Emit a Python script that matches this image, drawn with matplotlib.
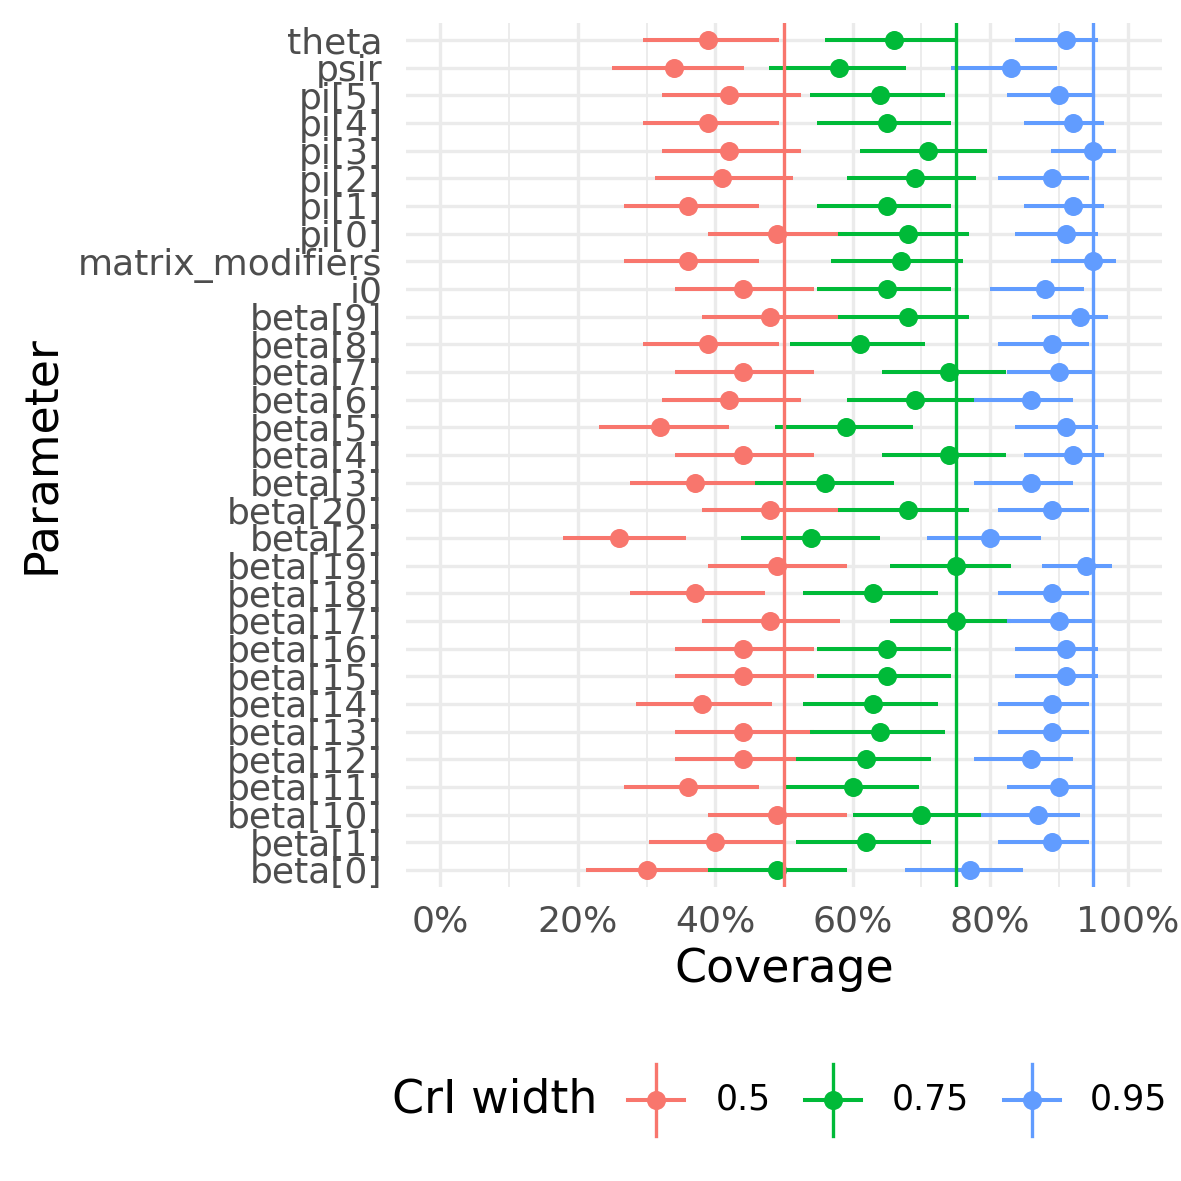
import matplotlib
matplotlib.use('Agg')
import matplotlib.pyplot as plt
from matplotlib.lines import Line2D
from matplotlib.ticker import FixedLocator

# Parameters, bottom to top (alphabetical order as in the source)
params = ['beta[0]', 'beta[1]', 'beta[10]', 'beta[11]', 'beta[12]', 'beta[13]',
          'beta[14]', 'beta[15]', 'beta[16]', 'beta[17]', 'beta[18]', 'beta[19]',
          'beta[2]', 'beta[20]', 'beta[3]', 'beta[4]', 'beta[5]', 'beta[6]',
          'beta[7]', 'beta[8]', 'beta[9]', 'i0', 'matrix_modifiers', 'pi[0]',
          'pi[1]', 'pi[2]', 'pi[3]', 'pi[4]', 'pi[5]', 'psir', 'theta']

widths = ['0.5', '0.75', '0.95']
nominal = [0.5, 0.75, 0.95]
colors = ['#F8766D', '#00BA38', '#619CFF']

# Coverage (%) and interval for CrI width 0.5
cov_50 = [30, 40, 49, 36, 44, 44, 38, 44, 44, 48, 37, 49, 26, 48, 37, 44, 32, 42,
          44, 39, 48, 44, 36, 49, 36, 41, 42, 39, 42, 34, 39]
lo_50 = [21.2, 30.4, 38.9, 26.7, 34.1, 34.1, 28.5, 34.1, 34.1, 38.0, 27.6, 38.9,
         17.8, 38.0, 27.6, 34.1, 23.1, 32.3, 34.1, 29.5, 38.0, 34.1, 26.7, 38.9,
         26.7, 31.3, 32.3, 29.5, 32.3, 24.9, 29.5]
hi_50 = [38.9, 49.8, 59.2, 46.3, 54.3, 54.3, 48.3, 54.3, 54.3, 58.2, 47.3, 59.2,
         35.8, 58.2, 47.3, 54.3, 42.0, 52.4, 54.3, 49.3, 58.2, 54.3, 46.3, 59.2,
         46.3, 51.3, 52.4, 49.3, 52.4, 44.2, 49.3]

# CrI width 0.75
cov_75 = [49, 62, 70, 60, 62, 64, 63, 65, 65, 75, 63, 75, 54, 68, 56, 74, 59, 69,
          74, 61, 68, 65, 67, 68, 65, 69, 71, 65, 64, 58, 66]
lo_75 = [38.9, 51.8, 60.1, 50.3, 51.8, 53.8, 52.8, 54.8, 54.8, 65.4, 52.8, 65.4,
         43.8, 57.9, 45.8, 64.3, 48.7, 59.1, 64.3, 50.8, 57.9, 54.8, 56.9, 57.9,
         54.8, 59.1, 61.1, 54.8, 53.8, 47.8, 55.9]
hi_75 = [59.2, 71.4, 78.7, 69.6, 71.4, 73.4, 72.4, 74.3, 74.3, 83.1, 72.4, 83.1,
         64.0, 76.9, 66.0, 82.3, 68.7, 77.9, 82.3, 70.5, 76.9, 74.3, 76.1, 76.9,
         74.3, 77.9, 79.6, 74.3, 73.4, 67.8, 74.9]

# CrI width 0.95
cov_95 = [77, 89, 87, 90, 86, 89, 89, 91, 91, 90, 89, 94, 80, 89, 86, 92, 91, 86,
          90, 89, 93, 88, 95, 91, 92, 89, 95, 92, 90, 83, 91]
lo_95 = [67.6, 81.2, 78.7, 82.4, 77.6, 81.2, 81.2, 83.6, 83.6, 82.4, 81.2, 87.5,
         70.8, 81.2, 77.6, 84.9, 83.6, 77.6, 82.4, 81.2, 86.1, 80.0, 88.8, 83.6,
         84.9, 81.2, 88.8, 84.9, 82.4, 74.3, 83.6]
hi_95 = [84.8, 94.4, 93.1, 94.9, 92.1, 94.4, 94.4, 95.7, 95.7, 94.9, 94.4, 97.7,
         87.4, 94.4, 92.1, 96.5, 95.7, 92.1, 94.9, 94.4, 97.1, 93.7, 98.3, 95.7,
         96.5, 94.4, 98.3, 96.5, 94.9, 89.7, 95.7]

xticks = [0, 0.2, 0.4, 0.6, 0.8, 1.0]
xtick_labels = ['0%', '20%', '40%', '60%', '80%', '100%']
xminor = [0.1, 0.3, 0.5, 0.7, 0.9]

series = [(cov_50, lo_50, hi_50), (cov_75, lo_75, hi_75), (cov_95, lo_95, hi_95)]

W = 1181.0
fig = plt.figure(figsize=(11.81, 11.81), dpi=100)
ax = fig.add_axes([0.3438, 0.2493, 0.6401, 0.7309])

ypos = list(range(len(params)))

# Intervals first, then points (like geom_pointrange)
for (cov, lo, hi), col in zip(series, colors):
    ax.hlines(ypos, [v / 100 for v in lo], [v / 100 for v in hi],
              color=col, lw=2.9, zorder=2)
for (cov, lo, hi), col in zip(series, colors):
    ax.plot([v / 100 for v in cov], ypos, 'o', color=col, ms=13.7,
            mew=0, zorder=3)

# Nominal coverage reference lines
for nom, col in zip(nominal, colors):
    ax.axvline(nom, color=col, lw=2.4, zorder=4)

ax.set_xlim(-0.05, 1.05)
ax.set_ylim(-0.6, len(params) - 0.4)
ax.set_yticks(ypos)
ax.set_yticklabels(params)
ax.set_xticks(xticks)
ax.set_xticklabels(xtick_labels)
ax.xaxis.set_minor_locator(FixedLocator(xminor))

ax.tick_params(axis='both', which='both', length=0, labelsize=26,
               labelcolor='#4D4D4D')
ax.tick_params(axis='y', pad=17)
ax.tick_params(axis='x', pad=13)

ax.set_axisbelow(True)
ax.grid(which='major', color='#EBEBEB', lw=2.4)
ax.grid(which='minor', axis='x', color='#EBEBEB', lw=1.3)
for s in ax.spines.values():
    s.set_visible(False)

fig.text(784 / W, 1 - 970 / W, 'Coverage', ha='center', va='center',
         fontsize=33)
fig.text(42 / W, 1 - 455 / W, 'Parameter', ha='center', va='center',
         rotation=90, fontsize=33)

# Legend drawn by hand: title on the left, keys = point range + vertical line
leg_y = 1 - 1100 / W
fig.text(392 / W, leg_y, 'CrI width', ha='left', va='center', fontsize=33)
key_x = [656, 833, 1032]
label_x = [716, 892, 1090]
for kx, lx, col, lab in zip(key_x, label_x, colors, widths):
    fig.add_artist(Line2D([(kx - 28) / W, (kx + 28) / W], [leg_y, leg_y],
                          transform=fig.transFigure, color=col, lw=2.9))
    fig.add_artist(Line2D([kx / W, kx / W], [leg_y - 36 / W, leg_y + 36 / W],
                          transform=fig.transFigure, color=col, lw=2.4))
    fig.add_artist(Line2D([kx / W], [leg_y], transform=fig.transFigure,
                          color=col, marker='o', ms=13.7, mew=0, ls='none'))
    fig.text(lx / W, leg_y, lab, ha='left', va='center', fontsize=25)

fig.savefig('out.png', dpi=100)
